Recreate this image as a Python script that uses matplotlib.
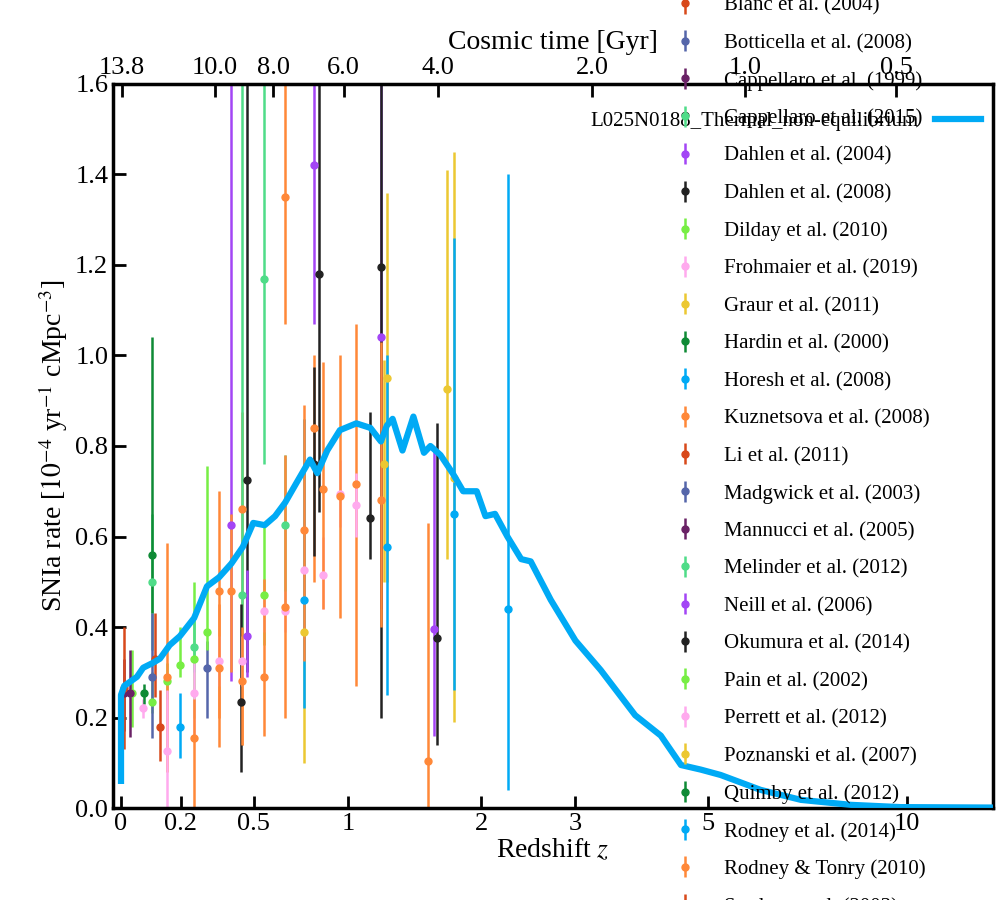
import numpy as np
import matplotlib
matplotlib.use("Agg")
import matplotlib.pyplot as plt

plt.rcParams['font.family'] = ['Liberation Serif', 'DejaVu Serif']
plt.rcParams['mathtext.fontset'] = 'stix'

# Model curve
model_z = [0.0, 0.0, 0.01, 0.03, 0.05, 0.07, 0.10, 0.126, 0.16, 0.197, 0.25, 0.30, 0.349, 0.40, 0.45, 0.497, 0.55,
           0.60, 0.65, 0.71, 0.78, 0.82, 0.876, 0.95, 1.05, 1.14, 1.21, 1.25, 1.29, 1.36, 1.44, 1.52, 1.57, 1.65,
           1.75, 1.84, 1.96, 2.04, 2.13, 2.25, 2.39, 2.49, 2.71, 3.0, 3.32, 3.80, 4.19, 4.52, 4.86, 5.23, 6.04,
           6.96, 8.27, 9.78, 13.3]
model_r = [0.06, 0.25, 0.27, 0.28, 0.29, 0.31, 0.32, 0.33, 0.36, 0.38, 0.42, 0.49, 0.51, 0.54, 0.577, 0.63, 0.625,
           0.645, 0.675, 0.72, 0.77, 0.74, 0.79, 0.835, 0.85, 0.84, 0.81, 0.845, 0.86, 0.79, 0.865, 0.785, 0.80, 0.78,
           0.74, 0.70, 0.70, 0.645, 0.65, 0.60, 0.55, 0.545, 0.46, 0.37, 0.305, 0.205, 0.16, 0.095, 0.085, 0.073,
           0.04, 0.018, 0.007, 0.002, 0.001]

names = ["Blanc et al. (2004)", "Botticella et al. (2008)", "Cappellaro et al. (1999)", "Cappellaro et al. (2015)",
         "Dahlen et al. (2004)", "Dahlen et al. (2008)", "Dilday et al. (2010)", "Frohmaier et al. (2019)",
         "Graur et al. (2011)", "Hardin et al. (2000)", "Horesh et al. (2008)", "Kuznetsova et al. (2008)",
         "Li et al. (2011)", "Madgwick et al. (2003)", "Mannucci et al. (2005)", "Melinder et al. (2012)",
         "Neill et al. (2006)", "Okumura et al. (2014)", "Pain et al. (2002)", "Perrett et al. (2012)",
         "Poznanski et al. (2007)", "Quimby et al. (2012)", "Rodney et al. (2014)", "Rodney & Tonry (2010)",
         "Strolger et al. (2003)"]
colors12 = ['#d8491b', '#5566aa', '#6a2266', '#4fdc88', '#a345f5', '#222222', '#77ee44', '#ffaaee',
            '#ecc832', '#0f8a35', '#00aaf5', '#ff8838']

# (z, rate, lower bound, upper bound) per survey
obs = {
 "Blanc et al. (2004)": [(0.11, 0.33, 0.245, 0.43)],
 "Botticella et al. (2008)": [(0.30, 0.31, 0.20, 0.37)],
 "Cappellaro et al. (1999)": [(0.01, 0.255, 0.17, 0.33)],
 "Cappellaro et al. (2015)": [(0.10, 0.50, 0.35, 0.65)],
 "Dahlen et al. (2004)": [(0.40, 0.625, 0.28, 1.7), (0.80, 1.42, 1.07, 1.7), (1.21, 1.04, 0.44, 1.7), (1.60, 0.395, 0.16, 0.79)],
 "Dahlen et al. (2008)": [(0.47, 0.725, 0.30, 1.7), (0.83, 1.18, 0.655, 1.7), (1.21, 1.195, 0.20, 1.7), (1.62, 0.375, 0.14, 0.85)],
 "Dilday et al. (2010)": [(0.034, 0.255, 0.18, 0.35), (0.099, 0.235, 0.21, 0.30), (0.151, 0.28, 0.24, 0.32),
                          (0.197, 0.315, 0.29, 0.40), (0.25, 0.33, 0.20, 0.50), (0.30, 0.39, 0.35, 0.755)],
 "Frohmaier et al. (2019)": [(0.07, 0.22, 0.20, 0.24)],
 "Graur et al. (2011)": [(1.25, 0.95, 0.50, 1.36), (1.70, 0.925, 0.55, 1.41)],
 "Hardin et al. (2000)": [(0.10, 0.56, 0.43, 1.04)],
 "Horesh et al. (2008)": [(0.197, 0.18, 0.11, 0.255)],
 "Kuznetsova et al. (2008)": [(0.151, 0.29, 0.08, 0.585), (0.349, 0.48, 0.135, 0.70), (0.447, 0.66, 0.14, 0.875),
                              (0.65, 1.35, 1.07, 1.7), (0.80, 0.84, 0.50, 1.0), (1.05, 0.715, 0.27, 1.07), (1.55, 0.105, 0.0, 0.63)],
 "Li et al. (2011)": [(0.01, 0.265, 0.13, 0.40)],
 "Madgwick et al. (2003)": [(0.10, 0.29, 0.155, 0.43)],
 "Mannucci et al. (2005)": [(0.028, 0.255, 0.157, 0.35)],
 "Melinder et al. (2012)": [(0.25, 0.355, 0.30, 0.42), (0.447, 0.47, 0.30, 1.7), (0.547, 1.17, 0.76, 1.7), (0.65, 0.625, 0.45, 0.78)],
 "Neill et al. (2006)": [(0.47, 0.38, 0.29, 0.525)],
 "Okumura et al. (2014)": [(0.443, 0.235, 0.08, 0.45), (0.80, 0.76, 0.557, 0.975), (1.14, 0.64, 0.55, 0.875)],
 "Pain et al. (2002)": [(0.547, 0.47, 0.36, 0.63)],
 "Perrett et al. (2012)": [(0.151, 0.125, 0.0, 0.26), (0.25, 0.255, 0.15, 0.33), (0.349, 0.325, 0.27, 0.38),
                           (0.447, 0.325, 0.27, 0.38), (0.547, 0.435, 0.39, 0.48), (0.65, 0.435, 0.39, 0.48),
                           (0.75, 0.525, 0.45, 0.60), (0.85, 0.515, 0.44, 0.60), (0.95, 0.695, 0.62, 0.77), (1.05, 0.67, 0.60, 0.74)],
 "Poznanski et al. (2007)": [(0.75, 0.39, 0.10, 0.86), (1.23, 0.76, 0.50, 0.99), (1.76, 0.73, 0.19, 1.45)],
 "Quimby et al. (2012)": [(0.073, 0.255, 0.23, 0.275)],
 "Rodney et al. (2014)": [(0.75, 0.46, 0.22, 0.86), (1.25, 0.577, 0.25, 1.0), (1.76, 0.65, 0.26, 1.26), (2.26, 0.44, 0.04, 1.4)],
 "Rodney & Tonry (2010)": [(0.25, 0.155, 0.0, 0.24), (0.349, 0.31, 0.20, 0.45), (0.40, 0.48, 0.30, 0.65),
                           (0.447, 0.28, 0.14, 0.40), (0.547, 0.29, 0.16, 0.505), (0.65, 0.445, 0.20, 0.78),
                           (0.75, 0.615, 0.325, 0.89), (0.85, 0.705, 0.44, 0.985), (0.95, 0.69, 0.42, 1.0), (1.21, 0.68, 0.40, 1.03)],
 "Strolger et al. (2003)": [(0.126, 0.18, 0.105, 0.26)],
}

age_ticks = [13.8, 10.0, 8.0, 6.0, 4.0, 2.0, 1.0, 0.5]

fwd = lambda z: np.log10(1 + np.asarray(z))
inv = lambda u: 10 ** np.asarray(u) - 1

fig = plt.figure(figsize=(9.96, 9.0), dpi=100)
ax = fig.add_axes([0.1135, 0.1022, 0.8835, 0.8045])
ax.set_xscale('function', functions=(fwd, inv))

handles = []
for i, n in enumerate(names):
    c = colors12[i % 12]
    pts = np.array(obs[n])
    h = ax.errorbar(pts[:, 0], pts[:, 1], yerr=[pts[:, 1] - pts[:, 2], pts[:, 3] - pts[:, 1]],
                    fmt='o', color=c, ms=5, elinewidth=1.8, capsize=0, zorder=2)
    handles.append(h)

line, = ax.plot(model_z, model_r, color='#00aaf5', lw=4.5, zorder=3,
                label='L025N0188_Thermal_non-equilibrium')
ax.legend(handles=[line], loc='upper right', frameon=False, fontsize=15, markerfirst=False,
          handlelength=2.2, borderaxespad=0.4, bbox_to_anchor=(1.005, 0.985))

xmin, xmax = -0.024, 13.3
ax.set_xlim(xmin, xmax)
ax.set_ylim(0, 1.6)
ax.set_xticks([0, 0.2, 0.5, 1, 2, 3, 5, 10])
ax.set_xticklabels(['0', '0.2', '0.5', '1', '2', '3', '5', '10'])
ax.set_yticks(np.arange(0, 1.61, 0.2))
ax.set_yticklabels(['%.1f' % v for v in np.arange(0, 1.61, 0.2)])
ax.minorticks_off()
ax.tick_params(direction='in', length=9, width=2, labelsize=19)
for s in ax.spines.values():
    s.set_linewidth(2.5)
ax.set_xlabel('Redshift $z$', fontsize=20, labelpad=2)
ax.set_ylabel(r'SNIa rate [$10^{-4}$ yr$^{-1}$ cMpc$^{-3}$]', fontsize=20)

# cosmic time top axis
H0, Om = 67.7, 0.307
OL = 1 - Om
tH = 977.8 / H0
A = 2 * tH / (3 * np.sqrt(OL))
B = np.sqrt(OL / Om)
def z_of_t(t):
    return (np.sinh(np.asarray(t) / A) / B) ** (-2.0 / 3.0) - 1
top = ax.twiny()
top.set_xscale('function', functions=(fwd, inv))
top.set_xlim(xmin, xmax)
top.set_xticks([max(float(z_of_t(t)), 0.0) for t in age_ticks])
top.set_xticklabels(['%.1f' % t for t in age_ticks])
top.minorticks_off()
top.tick_params(direction='in', length=9, width=2, labelsize=19)
top.set_xlabel('Cosmic time [Gyr]', fontsize=20, labelpad=6)

fig.legend(handles=handles, labels=names, loc='upper left', bbox_to_anchor=(0.668, 1.016),
           frameon=False, fontsize=15, handlelength=0.9, handletextpad=1.4, labelspacing=0.86,
           borderpad=0.0)

fig.savefig('out.png', dpi=100)
